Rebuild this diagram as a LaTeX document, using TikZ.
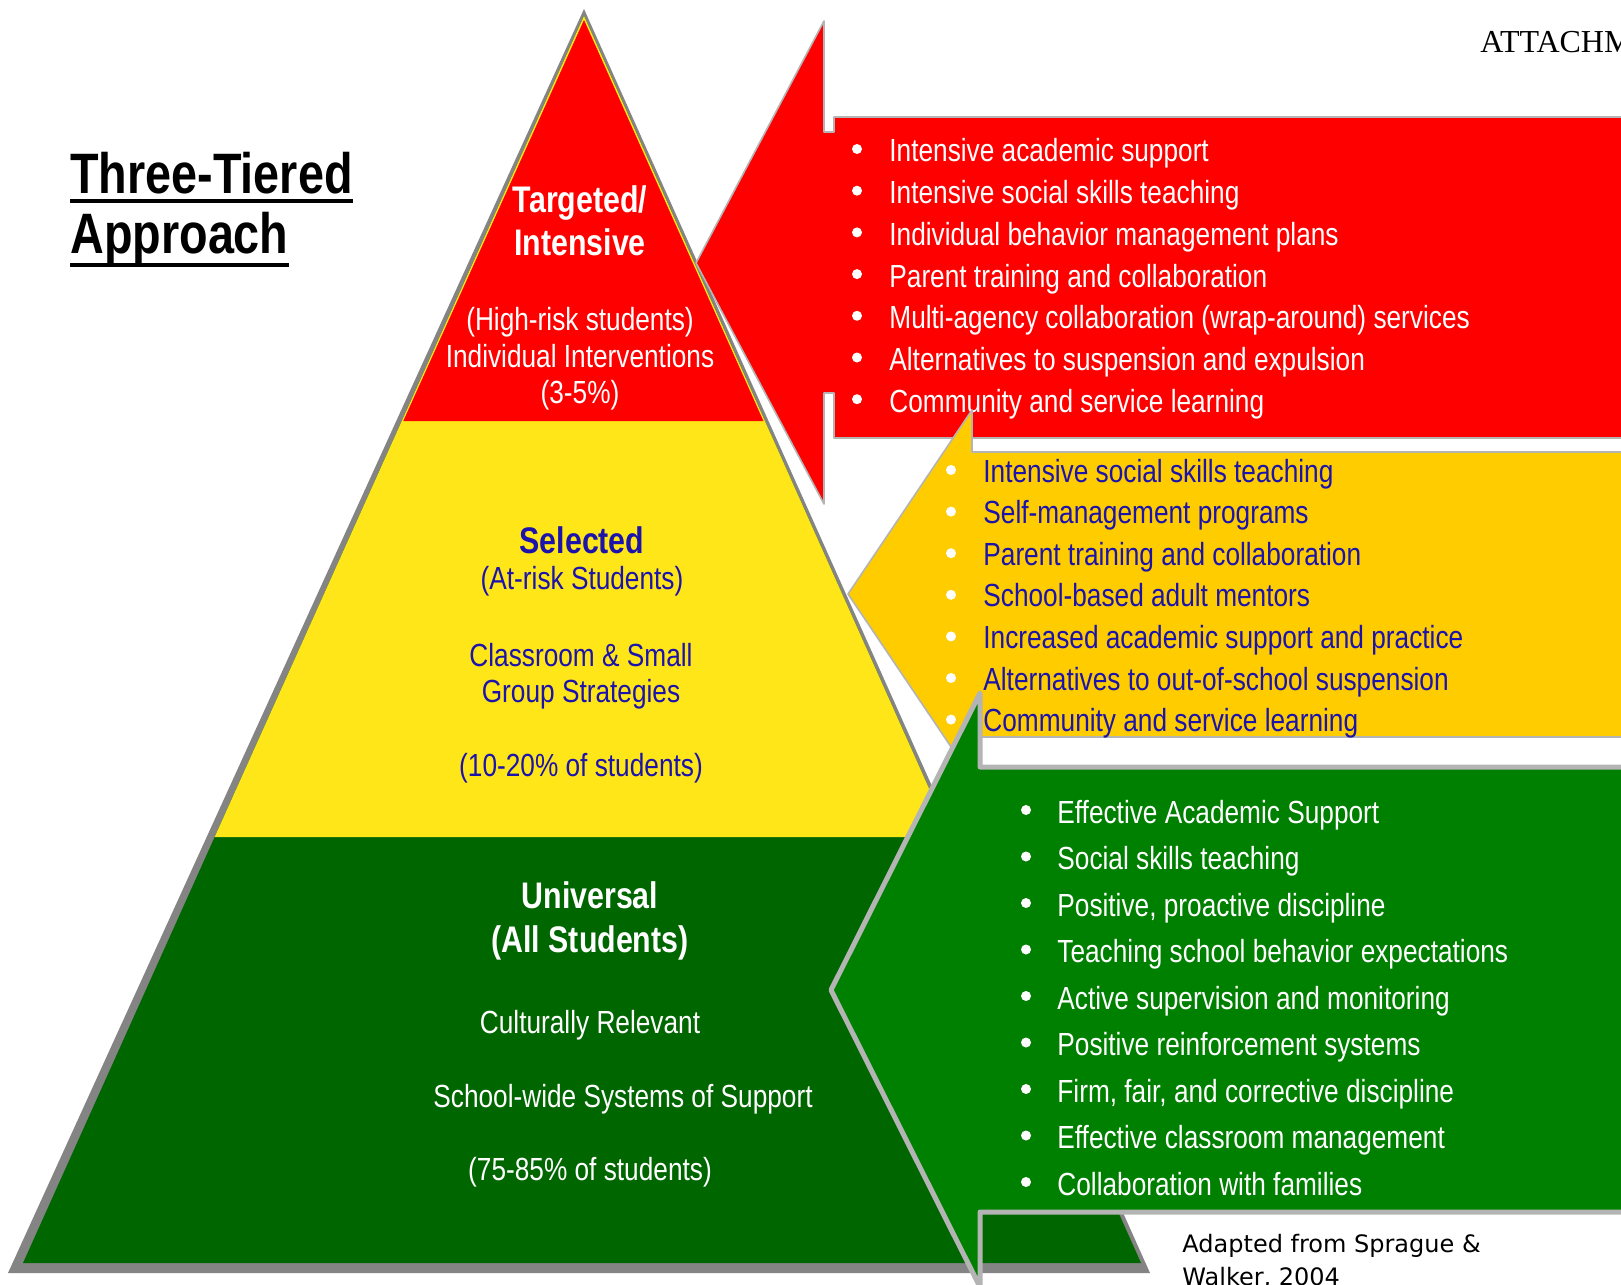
\documentclass[tikz,border=0pt]{standalone}
\usepackage{fontspec}
\setmainfont{Liberation Sans}[FakeStretch=0.82]
\newfontfamily\attachfont{Liberation Serif}
\newfontfamily\sourcefont{DejaVu Sans}
\usetikzlibrary{calc}

\definecolor{tierred}{RGB}{255,0,0}
\definecolor{tieryellow}{RGB}{255,230,25}
\definecolor{tiergreen}{RGB}{0,102,0}
\definecolor{boxgold}{RGB}{255,204,0}
\definecolor{boxgreen}{RGB}{0,128,0}
\definecolor{textblue}{RGB}{28,20,170}
\definecolor{shadowgrey}{RGB}{132,132,132}
\definecolor{rimgrey}{RGB}{180,180,180}

\tikzset{
  tier/.style={anchor=base, inner sep=0pt, font=\fontsize{16}{19}\selectfont},
  tierhead/.style={anchor=base, inner sep=0pt, font=\fontsize{18.5}{22}\selectfont\bfseries},
  item/.style={anchor=base west, inner sep=0pt, font=\fontsize{16}{19}\selectfont},
  dot/.style={circle, inner sep=0pt, minimum size=5pt, fill=white},
  heading/.style={anchor=base west, inner sep=0pt, font=\fontsize{28.5}{34}\selectfont\bfseries},
}

\begin{document}
\begin{tikzpicture}[x=0.5pt, y=-0.5pt]
  \useasboundingbox (0,0) rectangle (1621,1284);
  \fill[white] (0,0) rectangle (1621,1284);

  % pyramid
  \coordinate (apex) at (584,16);
  \coordinate (bl) at (23,1263);
  \coordinate (br) at (1141,1263);
  \fill[shadowgrey] (584,9) -- (8,1273) -- (1150,1273) -- cycle;
  \fill[tiergreen] (apex) -- (bl) -- (br) -- cycle;
  \fill[tieryellow] (apex) -- ($(apex)!0.6584!(bl)$) -- ($(apex)!0.6584!(br)$) -- cycle;
  \fill[tierred] ($(apex)+(0,4)$) -- ($(apex)!0.3248!(bl)+(1.5,0)$) -- ($(apex)!0.3248!(br)+(-1.5,0)$) -- cycle;

  % top tier
  \node[tierhead, text=white] (tgt1) at (580,212) {Targeted/};
  \node[tierhead, text=white] (tgt2) at (580,255) {Intensive};
  \node[tier, text=white] (tgt3) at (580,330) {(High-risk students)};
  \node[tier, text=white] (tgt4) at (580,367) {Individual Interventions};
  \node[tier, text=white] (tgt5) at (580,403) {(3-5\%)};

  % middle tier
  \node[tierhead, text=textblue] (sel1) at (582,553) {Selected};
  \node[tier, text=textblue] (sel2) at (582,589) {(At-risk Students)};
  \node[tier, text=textblue] (sel3) at (581,666) {Classroom \& Small};
  \node[tier, text=textblue] (sel4) at (581,702) {Group Strategies};
  \node[tier, text=textblue] (sel5) at (581,776) {(10-20\% of students)};

  % bottom tier
  \node[tierhead, text=white] (uni1) at (590,908) {Universal};
  \node[tierhead, text=white] (uni2) at (590,952) {(All Students)};
  \node[tier, text=white] (uni3) at (590,1033) {Culturally Relevant};
  \node[tier, text=white] (uni4) at (623,1107) {School-wide Systems of Support};
  \node[tier, text=white] (uni5) at (590,1180) {(75-85\% of students)};

  % red callout
  \filldraw[fill=tierred, draw=rimgrey, line width=0.8pt, line join=round]
    (1630,117) -- (834,117) -- (834,132) -- (824,132) -- (824,21) -- (696,263)
    -- (824,504) -- (824,393) -- (834,393) -- (834,438) -- (1630,438) -- cycle;
  \foreach \txt [count=\i from 0] in {Intensive academic support,
      Intensive social skills teaching, Individual behavior management plans,
      Parent training and collaboration,
      Multi-agency collaboration (wrap-around) services,
      Alternatives to suspension and expulsion, Community and service learning} {
    \node[dot] (rdot\i) at (857,{149+41.7*\i}) {};
    \node[item, text=white] (ritem\i) at (889,{162+41.7*\i}) {\txt};
  }

  % gold callout
  \filldraw[fill=boxgold, draw=rimgrey, line width=0.8pt, line join=round]
    (1630,452) -- (972,452) -- (972,410) -- (848,594) -- (972,778)
    -- (972,737) -- (1630,737) -- cycle;
  \foreach \txt [count=\i from 0] in {Intensive social skills teaching,
      Self-management programs, Parent training and collaboration,
      School-based adult mentors, Increased academic support and practice,
      Alternatives to out-of-school suspension, Community and service learning} {
    \node[dot] (gdot\i) at (951,{470+41.6*\i}) {};
    \node[item, text=textblue] (gitem\i) at (983,{482+41.6*\i}) {\txt};
  }

  % green callout
  \filldraw[fill=boxgreen, draw=rimgrey, line width=2.5pt, line join=round]
    (1640,767) -- (980,767) -- (980,693) -- (831,990) -- (980,1287)
    -- (980,1212) -- (1640,1212) -- cycle;
  \foreach \txt [count=\i from 0] in {Effective Academic Support,
      Social skills teaching, {Positive, proactive discipline},
      Teaching school behavior expectations, Active supervision and monitoring,
      Positive reinforcement systems, {Firm, fair, and corrective discipline},
      Effective classroom management, Collaboration with families} {
    \node[dot] (vdot\i) at (1026,{810+46.5*\i}) {};
    \node[item, text=white] (vitem\i) at (1057,{823+46.5*\i}) {\txt};
  }

  % title and notes
  \node[heading] (title1) at (70,193) {Three-Tiered};
  \node[heading] (title2) at (70,253) {Approach};
  \draw[line width=2pt] ($(title1.base west)+(0,7.5)$) -- ($(title1.base east)+(0,7.5)$);
  \draw[line width=2pt] ($(title2.base west)+(0,12)$) -- ($(title2.base east)+(0,12)$);
  \node[anchor=base west, inner sep=0pt, font=\attachfont\fontsize{16}{19}\selectfont] (attach) at (1480,53) {ATTACHM};
  \node[anchor=base west, inner sep=0pt, font=\sourcefont\fontsize{12}{15}\selectfont] (source1) at (1182,1252) {Adapted from Sprague \&};
  \node[anchor=base west, inner sep=0pt, font=\sourcefont\fontsize{12}{15}\selectfont] (source2) at (1182,1285) {Walker, 2004};
\end{tikzpicture}
\end{document}
